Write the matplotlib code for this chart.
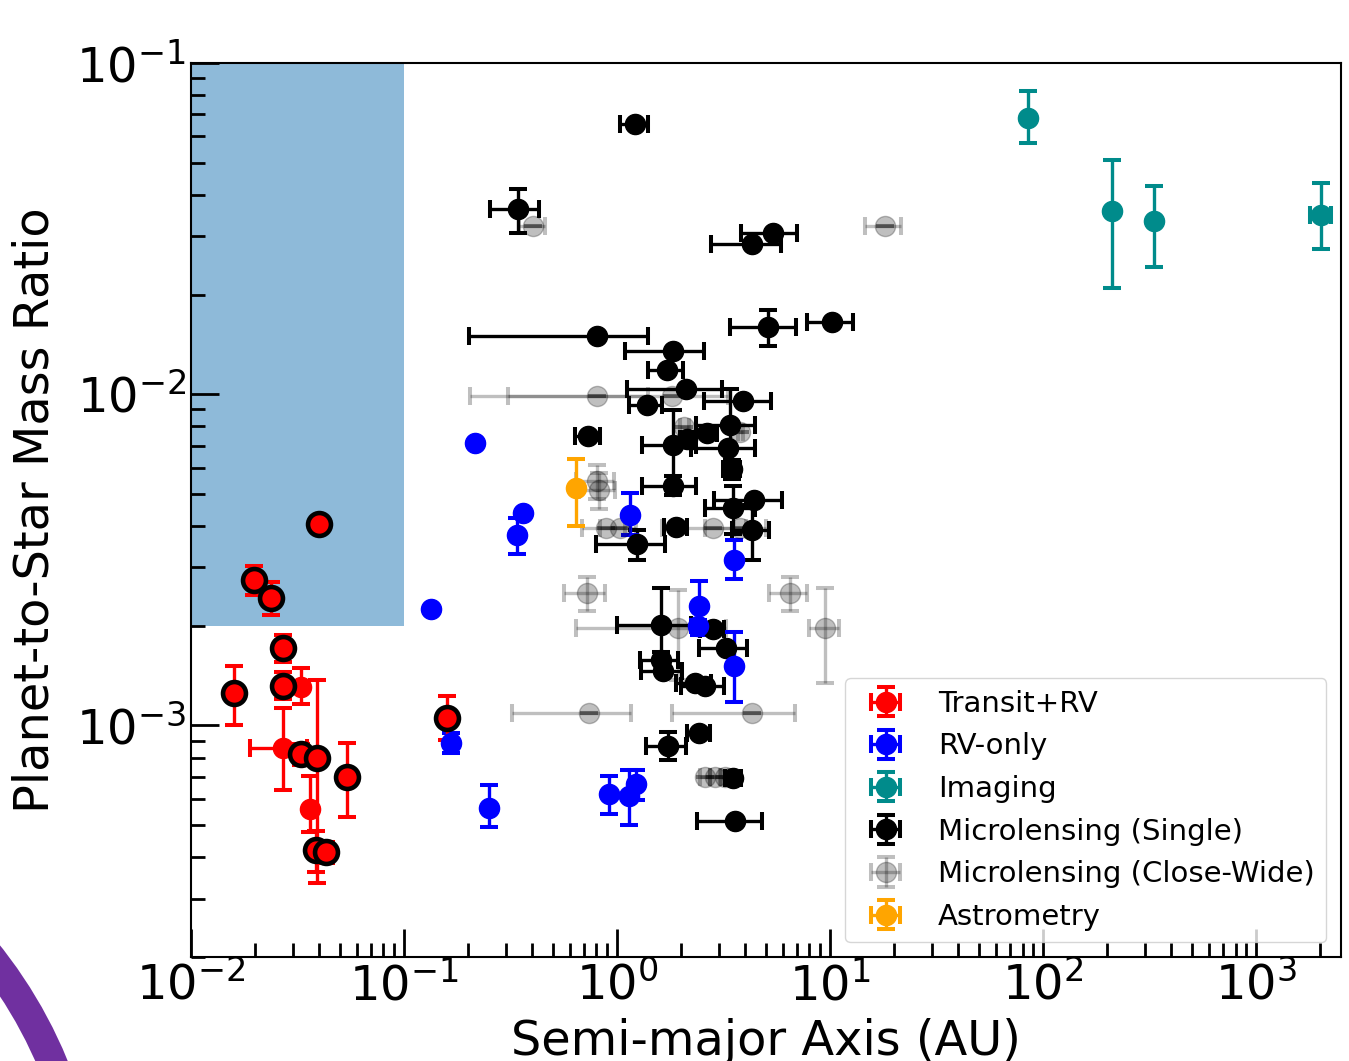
import matplotlib
matplotlib.use("Agg")
import matplotlib.pyplot as plt
from matplotlib.patches import Circle
from matplotlib.transforms import IdentityTransform
import numpy as np

# ---------------- data ----------------
# Transit+RV
tr_x = [0.0399, 0.0198, 0.0238, 0.0271, 0.0271, 0.0159, 0.0327, 0.0270, 0.0327, 0.0392, 0.0538, 0.0362, 0.0387, 0.0431, 0.1587]
tr_y = [4.06e-3, 2.75e-3, 2.43e-3, 1.71e-3, 1.32e-3, 1.25e-3, 1.31e-3, 8.57e-4, 8.18e-4, 7.95e-4, 6.98e-4, 5.58e-4, 4.21e-4, 4.15e-4, 1.055e-3]
tr_xlo = [0, 0, 0, 0, 0, 0, 0, 0.008, 0, 0, 0, 0, 0, 0, 0]
tr_xhi = [0, 0, 0, 0, 0, 0, 0, 0.008, 0, 0, 0, 0, 0, 0, 0]
tr_ylo = [1.5e-4, 2.8e-4, 2.7e-4, 1.5e-4, 1.2e-4, 2.5e-4, 1.5e-4, 2.2e-4, 0.6e-4, 4.6e-4, 1.7e-4, 0.8e-4, 0.6e-4, 0.3e-4, 1.5e-4]
tr_yhi = [1.5e-4, 2.9e-4, 2.9e-4, 1.6e-4, 1.3e-4, 2.6e-4, 1.8e-4, 2.7e-4, 0.6e-4, 5.8e-4, 1.9e-4, 1.45e-4, 0.6e-4, 0.3e-4, 1.7e-4]
tr_ring = [1, 1, 1, 1, 1, 1, 0, 0, 1, 1, 1, 0, 1, 1, 1]

# RV-only
rv_x = [0.2153, 0.134, 0.3606, 0.338, 1.151, 3.556, 2.427, 2.41, 3.556, 0.1656, 0.2506, 0.917, 1.138, 1.224]
rv_y = [7.13e-3, 2.25e-3, 4.38e-3, 3.77e-3, 4.33e-3, 3.17e-3, 2.30e-3, 2.0e-3, 1.51e-3, 8.87e-4, 5.65e-4, 6.22e-4, 6.12e-4, 6.64e-4]
rv_xerr = [0, 0, 0, 0, 0, 0, 0, 0, 0, 0, 0, 0, 0, 0]
rv_ylo = [0, 0, 0, 0.47e-3, 0.58e-3, 0.41e-3, 0.43e-3, 0.08e-3, 0.33e-3, 0.6e-4, 0.72e-4, 0.8e-4, 1.1e-4, 0.7e-4]
rv_yhi = [0, 0, 0, 0.47e-3, 0.70e-3, 0.47e-3, 0.43e-3, 0.08e-3, 0.41e-3, 0.6e-4, 0.95e-4, 0.8e-4, 1.2e-4, 0.7e-4]

# Imaging
im_x = [84.7, 211.5, 332.0, 2013.0]
im_y = [0.0684, 0.0358, 0.0333, 0.0348]
im_xerr = [0, 0, 0, 230]
im_ylo = [0.0111, 0.0149, 0.0091, 0.0073]
im_yhi = [0.0139, 0.0151, 0.0092, 0.0086]

# Microlensing (Single)
ml_x = [1.215, 0.342, 5.42, 4.32, 0.8025, 5.13, 10.25, 1.826, 1.711, 2.109, 3.917, 1.378,
        3.394, 3.33, 1.826, 1.826, 3.456, 3.516, 4.413, 4.32, 1.237, 0.733, 1.892, 2.132,
        2.645, 1.61, 1.61, 2.81, 3.25, 1.65, 2.324, 2.59, 1.742, 2.427, 3.516, 3.58]
ml_y = [0.0653, 0.0362, 0.0306, 0.0284, 0.0150, 0.0160, 0.01652, 0.01355, 0.0118, 0.01038, 0.00956, 0.00930,
        0.00805, 0.00688, 0.00704, 0.00530, 0.00595, 0.00454, 0.00479, 0.00390, 0.00352, 0.00746, 0.00396, 0.00734,
        0.00766, 0.002016, 0.00158, 0.00196, 0.001715, 0.00146, 0.001345, 0.001314, 8.66e-4, 9.51e-4, 6.95e-4, 5.14e-4]
ml_xerr = [0.18, 0.09, 1.6, 1.55, 0.60, 1.75, 2.5, 0.74, 0.32, 1.0, 1.35, 0.24,
           1.06, 1.1, 0.52, 0.52, 0.3, 0.93, 1.56, 0.85, 0.44, 0.1, 0.24, 0.15,
           0.29, 0.61, 0.33, 0.37, 0.82, 0.36, 0.44, 0.6, 0.37, 0.3, 0.3, 1.22]
ml_ylo = [0, 0.0056, 0, 0, 0, 0.0020, 0, 0, 0, 0, 0, 0,
          0.00235, 0, 0.0019, 0.00035, 0.0004, 0.00076, 0, 0.00073, 0.00035, 0, 0, 0,
          0, 0.00035, 0, 0, 0, 0, 0, 0, 0.8e-4, 0, 0, 0]
ml_yhi = [0, 0.0054, 0, 0, 0, 0.0020, 0, 0, 0, 0, 0, 0,
          0.00235, 0, 0.0019, 0.00035, 0.0004, 0.00076, 0, 0.00073, 0.00038, 0, 0, 0,
          0, 0.00059, 0, 0, 0, 0, 0, 0, 0.9e-4, 0, 0, 0]

# Microlensing (Close-Wide)
cw_x = [0.402, 18.1, 0.803, 1.806, 0.803, 0.82, 0.888, 1.033, 2.83, 3.78, 0.721, 6.49,
        9.47, 1.94, 0.741, 4.32, 2.59, 2.88, 3.21, 2.064, 3.78]
cw_y = [0.0321, 0.0321, 0.0099, 0.0099, 0.00548, 0.00515, 0.00395, 0.00395, 0.00395, 0.00395, 0.00251, 0.00251,
        0.00197, 0.00197, 0.001092, 0.001092, 6.97e-4, 6.97e-4, 6.97e-4, 7.98e-3, 7.71e-3]
cw_xerr = [0.055, 3.5, 0.60, 1.5, 0.16, 0.16, 0.2, 0.2, 1.2, 1.2, 0.16, 1.3,
           1.5, 1.3, 0.42, 2.5, 0.15, 0.15, 0.15, 0.1, 0.1]
cw_yerr = [0, 0, 0, 0, 0.65e-3, 0.65e-3, 0, 0, 0, 0, 0.3e-3, 0.3e-3,
           0.63e-3, 0.6e-3, 0, 0, 0, 0, 0, 0, 0]

# Astrometry
as_x = [0.642]
as_y = [5.21e-3]
as_xerr = [0]
as_ylo = [1.2e-3]
as_yhi = [1.18e-3]

# shaded region
region_x = [0.01, 0.1]
region_y = [2e-3, 0.1]

labels = ["Transit+RV", "RV-only", "Imaging", "Microlensing (Single)",
          "Microlensing (Close-Wide)", "Astrometry"]

# ---------------- plot ----------------
W, H = 1349, 1061
fig = plt.figure(figsize=(W / 100, H / 100), dpi=100)
ax = fig.add_axes([191 / W, 1 - 957 / H, (1341 - 191) / W, (957 - 63) / H])
ax.set_xscale("log")
ax.set_yscale("log")

ax.fill_between(region_x, region_y[0], region_y[1], color="C0", alpha=0.5, lw=0, zorder=0)

style = dict(fmt="o", ms=14.5, capsize=6.8, capthick=2.9, elinewidth=2.4, ls="none")

h_cw = ax.errorbar(cw_x, cw_y, xerr=cw_xerr, yerr=cw_yerr, color="k", alpha=0.25, **style)
h_ml = ax.errorbar(ml_x, ml_y, xerr=ml_xerr, yerr=[ml_ylo, ml_yhi], color="k", **style)
h_rv = ax.errorbar(rv_x, rv_y, xerr=rv_xerr, yerr=[rv_ylo, rv_yhi], color="blue", **style)
h_im = ax.errorbar(im_x, im_y, xerr=im_xerr, yerr=[im_ylo, im_yhi], color="darkcyan", **style)
h_as = ax.errorbar(as_x, as_y, xerr=as_xerr, yerr=[as_ylo, as_yhi], color="orange", **style)
h_tr = ax.errorbar(tr_x, tr_y, xerr=[tr_xlo, tr_xhi], yerr=[tr_ylo, tr_yhi], color="red", **style)

rx = [x for x, r in zip(tr_x, tr_ring) if r]
ry = [y for y, r in zip(tr_y, tr_ring) if r]
ax.plot(rx, ry, "o", mfc="red", mec="k", ms=16.5, mew=3.3, ls="none", zorder=5)

ax.set_xlim(1e-2, 2500)
ax.set_ylim(2e-4, 1e-1)

ax.set_xlabel("Semi-major Axis (AU)", fontsize=34.5, labelpad=6)
ax.set_ylabel("Planet-to-Star Mass Ratio", fontsize=34.5, labelpad=13)
ax.tick_params(which="both", direction="in", top=False, right=False, labelsize=34.5)
ax.tick_params(which="major", length=20, width=2)
ax.tick_params(which="minor", length=10, width=2)
for s in ax.spines.values():
    s.set_linewidth(1.5)

ax.legend([h_tr, h_rv, h_im, h_ml, h_cw, h_as], labels, loc="lower right", fontsize=21)

# slide decoration ring at bottom-left
fig.add_artist(Circle((-370, -179), 458, transform=IdentityTransform(), fill=False,
                      lw=21.6, ec="#7030a0", zorder=0))

fig.savefig("out.png", dpi=100)
